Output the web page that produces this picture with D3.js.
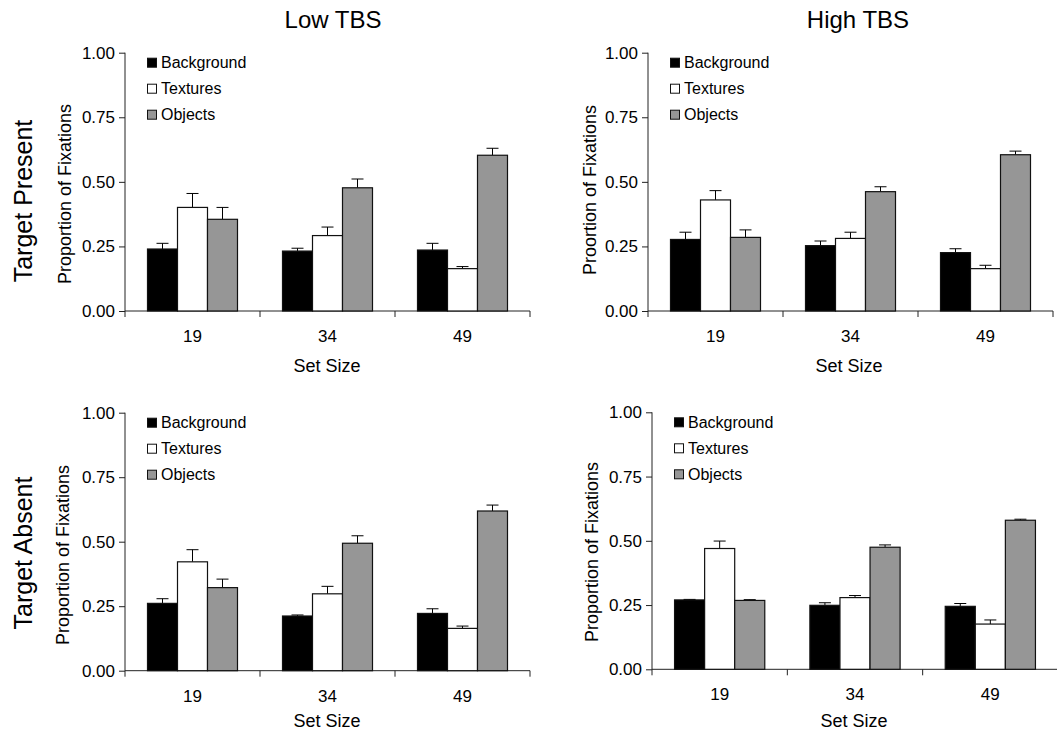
<!DOCTYPE html>
<html>
<head>
<meta charset="utf-8">
<script src="https://cdn.jsdelivr.net/npm/d3@7"></script>
<style>
    body { margin: 0; background: #fff; }
    text { font-family: "Liberation Sans", Arial, sans-serif; fill: #000; }
</style>
</head>
<body>
<div id="chart"></div>
<script>

// categories
let setSizes = ["19", "34", "49"];
let seriesNames = ["Background", "Textures", "Objects"];
let yTicks = [0, 0.25, 0.5, 0.75, 1];

// means, one row per set size (Background, Textures, Objects)
let presentLowMean = [[0.240, 0.401, 0.355], [0.232, 0.292, 0.477], [0.236, 0.164, 0.603]];
let presentLowErr = [[0.022, 0.054, 0.046], [0.011, 0.033, 0.034], [0.026, 0.008, 0.027]];

let presentHighMean = [[0.277, 0.430, 0.285], [0.253, 0.281, 0.462], [0.226, 0.164, 0.605]];
let presentHighErr = [[0.028, 0.036, 0.029], [0.018, 0.024, 0.019], [0.015, 0.013, 0.014]];

let absentLowMean = [[0.261, 0.422, 0.322], [0.212, 0.298, 0.494], [0.222, 0.164, 0.619]];
let absentLowErr = [[0.018, 0.047, 0.033], [0.004, 0.029, 0.029], [0.018, 0.009, 0.023]];

let absentHighMean = [[0.270, 0.470, 0.268], [0.249, 0.279, 0.475], [0.245, 0.176, 0.580]];
let absentHighErr = [[0.002, 0.029, 0.003], [0.010, 0.008, 0.009], [0.011, 0.016, 0.004]];

let fills = {Background: "#000000", Textures: "#ffffff", Objects: "#969696"};

let svg = d3.select("#chart").append("svg")
    .attr("width", 1057)
    .attr("height", 733);

function drawPanel(p) {
    let g = svg.append("g");

    let x0 = d3.scaleBand()
        .domain(setSizes)
        .range([p.left, p.right]);

    let x1 = d3.scaleBand()
        .domain(seriesNames)
        .range([0, x0.bandwidth()])
        .paddingOuter(0.75);

    let y = d3.scaleLinear()
        .domain([0, 1])
        .range([p.bottom, p.top]);

    // y axis
    let yAxis = g.append("g")
        .attr("transform", "translate(" + p.left + ",0)")
        .call(d3.axisLeft(y).tickValues(yTicks).tickFormat(d3.format(".2f")).tickSize(6).tickPadding(4));
    yAxis.select(".domain").attr("d", "M0," + (p.bottom + 6) + "V" + p.top);

    // x axis, ticks between the groups
    let xAxis = g.append("g")
        .attr("transform", "translate(0," + p.bottom + ")");
    xAxis.append("line")
        .attr("x1", p.left).attr("x2", p.right)
        .attr("stroke", "#222");
    xAxis.selectAll(".sep")
        .data(setSizes.slice(1).concat(["end"]))
        .enter()
        .append("line")
        .attr("x1", (d, i) => i < 2 ? x0(d) : p.right)
        .attr("x2", (d, i) => i < 2 ? x0(d) : p.right)
        .attr("y1", 0).attr("y2", 6)
        .attr("stroke", "#222");
    xAxis.selectAll(".lbl")
        .data(setSizes)
        .enter()
        .append("text")
        .attr("x", d => x0(d) + x0.bandwidth() / 2)
        .attr("y", 31)
        .attr("text-anchor", "middle")
        .style("font-size", "17px")
        .text(d => d);

    yAxis.selectAll("line, path").attr("stroke", "#222");
    yAxis.selectAll("text").style("font-size", "17px").style("font-family", "Liberation Sans, Arial, sans-serif");

    // bars
    let rows = [];
    setSizes.forEach((s, i) => {
        seriesNames.forEach((n, j) => {
            rows.push({size: s, name: n, value: p.mean[i][j], err: p.err[i][j]});
        });
    });

    // error bars (upper half only)
    g.selectAll(".errLine")
        .data(rows)
        .enter()
        .append("line")
        .attr("x1", d => x0(d.size) + x1(d.name) + x1.bandwidth() / 2)
        .attr("x2", d => x0(d.size) + x1(d.name) + x1.bandwidth() / 2)
        .attr("y1", d => y(d.value))
        .attr("y2", d => y(d.value + d.err))
        .attr("stroke", "#000");

    g.selectAll(".errCap")
        .data(rows)
        .enter()
        .append("line")
        .attr("x1", d => x0(d.size) + x1(d.name) + x1.bandwidth() / 2 - 6)
        .attr("x2", d => x0(d.size) + x1(d.name) + x1.bandwidth() / 2 + 6)
        .attr("y1", d => y(d.value + d.err))
        .attr("y2", d => y(d.value + d.err))
        .attr("stroke", "#000");

    g.selectAll(".bar")
        .data(rows)
        .enter()
        .append("rect")
        .attr("x", d => x0(d.size) + x1(d.name))
        .attr("y", d => y(d.value))
        .attr("width", x1.bandwidth())
        .attr("height", d => y(0) - y(d.value))
        .attr("fill", d => fills[d.name])
        .attr("stroke", "#111")
        .attr("stroke-width", 1.2);

    // legend
    let legend = g.selectAll(".legend")
        .data(seriesNames)
        .enter()
        .append("g")
        .attr("transform", (d, i) => "translate(" + (p.left + 22) + "," + (p.top + 10 + i * 26) + ")");
    legend.append("rect")
        .attr("x", 0.5).attr("y", -4.5)
        .attr("width", 9).attr("height", 9)
        .attr("fill", d => fills[d])
        .attr("stroke", "#111");
    legend.append("text")
        .attr("x", 14)
        .attr("y", 0)
        .attr("dy", "0.35em")
        .style("font-size", "16px")
        .text(d => d);

    // axis titles
    g.append("text")
        .attr("transform", "translate(" + p.yLabelX + "," + p.yLabelY + ") rotate(-90)")
        .attr("text-anchor", "middle")
        .style("font-size", "18px")
        .text(p.yLabel);

    g.append("text")
        .attr("x", p.xLabelX)
        .attr("y", p.xLabelY)
        .attr("text-anchor", "middle")
        .style("font-size", "18px")
        .text("Set Size");
}

drawPanel({left: 125, right: 530, top: 52.7, bottom: 311, mean: presentLowMean, err: presentLowErr,
    yLabel: "Proportion of Fixations", yLabelX: 71, yLabelY: 194, xLabelX: 327, xLabelY: 372});
drawPanel({left: 648, right: 1053, top: 52.7, bottom: 311, mean: presentHighMean, err: presentHighErr,
    yLabel: "Proortion of Fixations", yLabelX: 596, yLabelY: 190, xLabelX: 849, xLabelY: 372});
drawPanel({left: 125, right: 530, top: 412.7, bottom: 670.7, mean: absentLowMean, err: absentLowErr,
    yLabel: "Proportion of Fixations", yLabelX: 69, yLabelY: 555, xLabelX: 327, xLabelY: 727});
drawPanel({left: 652, right: 1058, top: 412.3, bottom: 669.3, mean: absentHighMean, err: absentHighErr,
    yLabel: "Proportion of Fixations", yLabelX: 598, yLabelY: 552, xLabelX: 854, xLabelY: 727});

// column and row headers
svg.append("text")
    .attr("x", 333).attr("y", 28)
    .attr("text-anchor", "middle")
    .style("font-size", "24px")
    .text("Low TBS");

svg.append("text")
    .attr("x", 858).attr("y", 28)
    .attr("text-anchor", "middle")
    .style("font-size", "24px")
    .text("High TBS");

svg.append("text")
    .attr("transform", "translate(32,201) rotate(-90)")
    .attr("text-anchor", "middle")
    .style("font-size", "25px")
    .text("Target Present");

svg.append("text")
    .attr("transform", "translate(32,553) rotate(-90)")
    .attr("text-anchor", "middle")
    .style("font-size", "25px")
    .text("Target Absent");

</script>
</body>
</html>
